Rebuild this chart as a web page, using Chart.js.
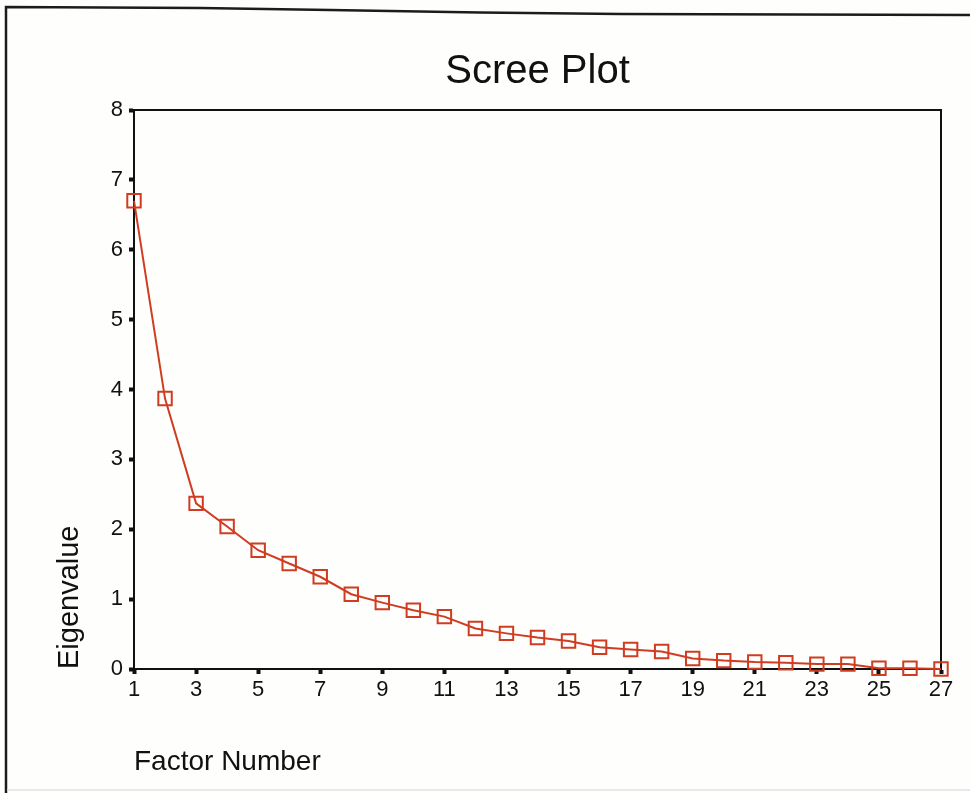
<!DOCTYPE html>
<html>
<head>
<meta charset="utf-8">
<title>Scree Plot</title>
<script src="https://cdn.jsdelivr.net/npm/chart.js@4/dist/chart.umd.min.js"></script>
<style>
  html, body { margin: 0; padding: 0; background: #ffffff; }
  #wrap { width: 970px; height: 793px; }
  canvas { display: block; }
</style>
</head>
<body>
<div id="wrap"><canvas id="scree" width="970" height="793"></canvas></div>
<script>
// Factor numbers and their eigenvalues
const factorNumbers = [1, 2, 3, 4, 5, 6, 7, 8, 9, 10, 11, 12, 13, 14, 15, 16, 17, 18, 19, 20, 21, 22, 23, 24, 25, 26, 27];
const eigenvalues = [6.70, 3.87, 2.37, 2.04, 1.70, 1.51, 1.32, 1.07, 0.95, 0.84, 0.75, 0.58, 0.51, 0.45, 0.40, 0.31, 0.28, 0.25, 0.15, 0.12, 0.10, 0.09, 0.07, 0.07, 0.01, 0.01, 0.00];

// Axis tick values
const xTickValues = [1, 3, 5, 7, 9, 11, 13, 15, 17, 19, 21, 23, 25, 27];
const yTickValues = [0, 1, 2, 3, 4, 5, 6, 7, 8];

const lineColor = '#d03c20';
const inkColor = '#111111';
const fontFamily = '"Liberation Sans", Arial, Helvetica, sans-serif';

// White page, outer frame, and the top/right edges of the plot box
const pageFrame = {
  id: 'pageFrame',
  beforeDraw(chart) {
    const ctx = chart.ctx;
    ctx.save();
    ctx.fillStyle = '#fefefd';
    ctx.fillRect(0, 0, chart.width, chart.height);
    ctx.strokeStyle = '#1c1c1c';
    ctx.lineWidth = 2.5;
    ctx.beginPath();
    ctx.moveTo(6, chart.height);
    ctx.lineTo(6, 7);
    ctx.lineTo(200, 8);
    ctx.lineTo(330, 10);
    ctx.lineTo(480, 12.5);
    ctx.lineTo(620, 14);
    ctx.lineTo(chart.width, 15);
    ctx.stroke();
    ctx.strokeStyle = '#e2e2e2';
    ctx.lineWidth = 1.5;
    ctx.beginPath();
    ctx.moveTo(7, 790);
    ctx.lineTo(chart.width, 790);
    ctx.stroke();
    ctx.restore();
  },
  beforeDatasetsDraw(chart) {
    const { ctx, chartArea: a } = chart;
    ctx.save();
    ctx.strokeStyle = inkColor;
    ctx.lineWidth = 2;
    ctx.beginPath();
    ctx.moveTo(a.left, a.top);
    ctx.lineTo(a.right, a.top);
    ctx.lineTo(a.right, a.bottom);
    ctx.stroke();
    ctx.restore();
  }
};

new Chart(document.getElementById('scree'), {
  type: 'line',
  data: {
    datasets: [{
      label: 'Eigenvalue',
      data: factorNumbers.map((f, i) => ({ x: f, y: eigenvalues[i] })),
      borderColor: lineColor,
      borderWidth: 2,
      pointStyle: 'rect',
      pointRadius: 9.5,
      pointHoverRadius: 9.5,
      pointBorderWidth: 2,
      pointBorderColor: lineColor,
      pointBackgroundColor: 'rgba(255,255,255,0)',
      tension: 0,
      clip: false
    }]
  },
  options: {
    responsive: false,
    animation: false,
    devicePixelRatio: 1,
    layout: { padding: { left: 0, right: 29, top: 0, bottom: 0 } },
    plugins: {
      legend: { display: false },
      tooltip: { enabled: false },
      title: {
        display: true,
        text: 'Scree Plot',
        color: inkColor,
        font: { family: fontFamily, size: 40, weight: 'normal' },
        padding: { top: 48, bottom: 14 },
        align: 'center',
        fullSize: false   // centred over the plot box rather than the whole canvas
      }
    },
    scales: {
      x: {
        type: 'linear',
        min: 1,
        max: 27,
        afterBuildTicks: (scale) => { scale.ticks = xTickValues.map(v => ({ value: v })); },
        afterFit: (scale) => { scale.height = 124; },
        border: { display: true, color: inkColor, width: 2 },
        grid: { drawOnChartArea: false, drawTicks: true, tickLength: 5, tickWidth: 4, tickColor: inkColor },
        ticks: {
          color: inkColor,
          font: { family: fontFamily, size: 22 },
          padding: 3,
          maxRotation: 0,
          autoSkip: false
        },
        title: {
          display: true,
          text: 'Factor Number',
          align: 'start',
          color: inkColor,
          font: { family: fontFamily, size: 28 },
          padding: { top: 0, bottom: 14 }
        }
      },
      y: {
        type: 'linear',
        min: 0,
        max: 8,
        afterBuildTicks: (scale) => { scale.ticks = yTickValues.map(v => ({ value: v })); },
        afterFit: (scale) => { scale.width = 134; },
        border: { display: true, color: inkColor, width: 2 },
        grid: { drawOnChartArea: false, drawTicks: true, tickLength: 5, tickWidth: 4, tickColor: inkColor },
        ticks: {
          color: inkColor,
          font: { family: fontFamily, size: 22 },
          padding: 6,
          autoSkip: false
        },
        title: {
          display: true,
          text: 'Eigenvalue',
          align: 'start',
          color: inkColor,
          font: { family: fontFamily, size: 29 },
          padding: { top: 53, bottom: 0 }
        }
      }
    }
  },
  plugins: [pageFrame]
});
</script>
</body>
</html>
